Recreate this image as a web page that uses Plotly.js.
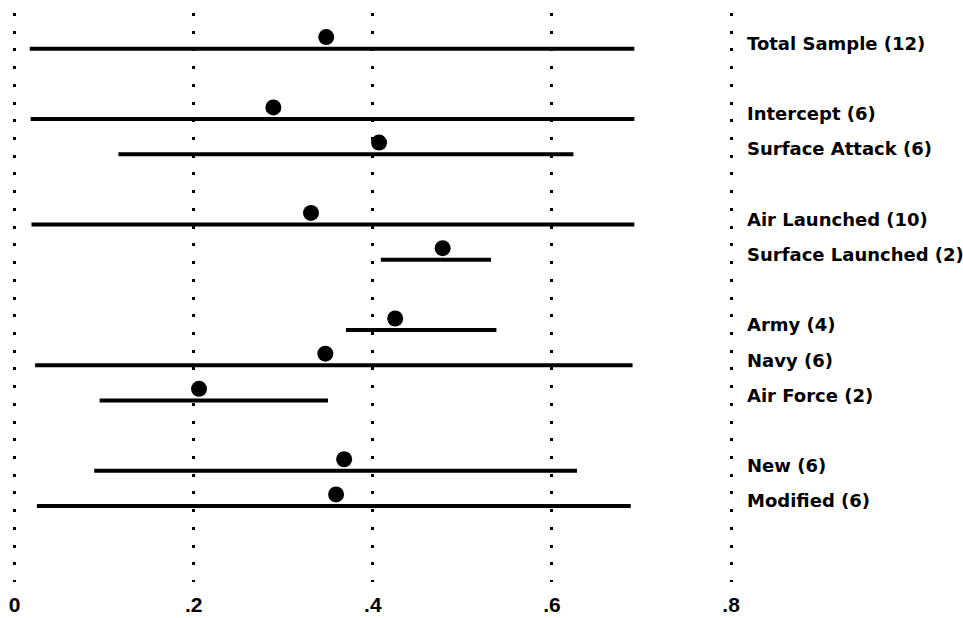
<!DOCTYPE html>
<html>
<head>
<meta charset="utf-8">
<script src="https://cdn.plot.ly/plotly-3.0.1.min.js"></script>
<style>
  html, body { margin: 0; padding: 0; background: #fff; }
  #chart { width: 963px; height: 618px; }
</style>
</head>
<body>
<div id="chart"></div>
<script>
// ---- data ----
const labels = ['Total Sample (12)', 'Intercept (6)', 'Surface Attack (6)', 'Air Launched (10)',
                'Surface Launched (2)', 'Army (4)', 'Navy (6)', 'Air Force (2)', 'New (6)', 'Modified (6)'];
const rowIndex = [1, 3, 4, 6, 7, 9, 10, 11, 13, 14];
const estimate = [0.348, 0.289, 0.407, 0.331, 0.478, 0.425, 0.347, 0.206, 0.368, 0.359];
const lower    = [0.017, 0.018, 0.116, 0.019, 0.409, 0.370, 0.023, 0.095, 0.089, 0.025];
const upper    = [0.692, 0.692, 0.624, 0.692, 0.532, 0.538, 0.690, 0.350, 0.628, 0.688];
const tickVals = [0, 0.2, 0.4, 0.6, 0.8];
const tickText = ['0', '.2', '.4', '.6', '.8'];

// ---- build traces ----
const dotOffset = 0.33;   // dots sit just above their interval line
const labelOffset = 0.15;

const lx = [], ly = [];
for (let i = 0; i < labels.length; i++) {
  lx.push(lower[i], upper[i], null);
  ly.push(rowIndex[i], rowIndex[i], null);
}

const intervals = {
  x: lx, y: ly, type: 'scatter', mode: 'lines',
  line: { color: '#000', width: 4 },
  hoverinfo: 'skip', showlegend: false
};
const dots = {
  x: estimate, y: rowIndex.map(r => r - dotOffset),
  type: 'scatter', mode: 'markers',
  marker: { color: '#000', size: 16, line: { width: 0 } },
  cliponaxis: false, showlegend: false
};

const annotations = labels.map((t, i) => ({
  x: 0.8, y: rowIndex[i] - labelOffset, xref: 'x', yref: 'y',
  text: t, showarrow: false, xanchor: 'left', yanchor: 'middle', xshift: 14,
  font: { family: 'DejaVu Sans', size: 18, weight: 'bold', color: '#000' }
}));

const layout = {
  width: 963, height: 618,
  margin: { l: 0, r: 214, t: 12.5, b: 35.5, pad: 0 },
  paper_bgcolor: '#fff', plot_bgcolor: '#fff',
  showlegend: false,
  xaxis: {
    range: [-0.0162, 0.82],
    tickvals: tickVals, ticktext: tickText,
    showgrid: true, gridcolor: '#000', gridwidth: 3, griddash: '3px,14.72px',
    zeroline: false, showline: false, ticks: '',
    ticklabelstandoff: 8,
    tickfont: { family: 'Liberation Sans', size: 21, weight: 'bold', color: '#000' }
  },
  yaxis: {
    range: [16.16, -0.014],
    showgrid: false, zeroline: false, showline: false, showticklabels: false, ticks: ''
  },
  annotations: annotations
};

Plotly.newPlot('chart', [intervals, dots], layout, { displayModeBar: false, staticPlot: true });
</script>
</body>
</html>
